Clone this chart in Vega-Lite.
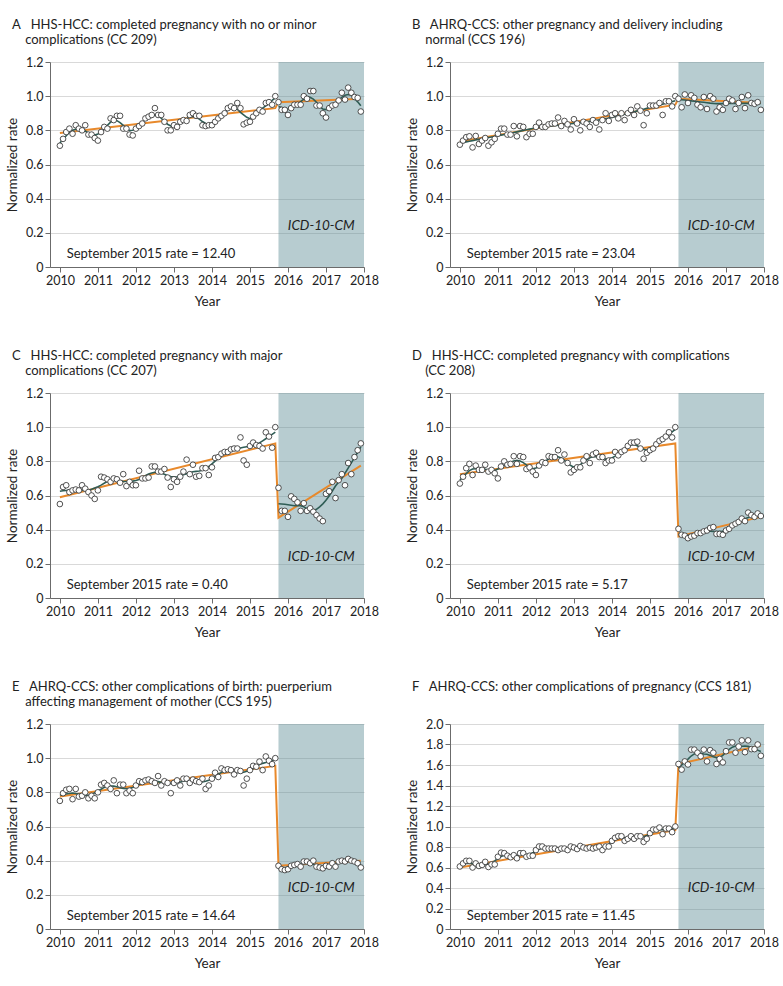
{
"$schema": "https://vega.github.io/schema/vega-lite/v6.json",
"background": "white",
"padding": {"left": 5, "top": 18, "right": 5, "bottom": 5},
"datasets": {
"monthly": [
{"t":2010,"era":"9","A":0.71,"B":0.716,"C":0.55,"D":0.67,"E":0.75,"F":0.61},
{"t":2010.0833,"era":"9","A":0.75,"B":0.74,"C":0.65,"D":0.71,"E":0.795,"F":0.64},
{"t":2010.1667,"era":"9","A":0.79,"B":0.76,"C":0.66,"D":0.76,"E":0.815,"F":0.665},
{"t":2010.25,"era":"9","A":0.81,"B":0.765,"C":0.62,"D":0.785,"E":0.82,"F":0.665},
{"t":2010.3333,"era":"9","A":0.78,"B":0.70,"C":0.63,"D":0.72,"E":0.76,"F":0.60},
{"t":2010.4167,"era":"9","A":0.83,"B":0.767,"C":0.635,"D":0.775,"E":0.82,"F":0.64},
{"t":2010.5,"era":"9","A":0.81,"B":0.72,"C":0.63,"D":0.75,"E":0.775,"F":0.615},
{"t":2010.5833,"era":"9","A":0.80,"B":0.74,"C":0.66,"D":0.75,"E":0.78,"F":0.625},
{"t":2010.6667,"era":"9","A":0.83,"B":0.755,"C":0.64,"D":0.78,"E":0.80,"F":0.655},
{"t":2010.75,"era":"9","A":0.775,"B":0.71,"C":0.62,"D":0.74,"E":0.765,"F":0.605},
{"t":2010.8333,"era":"9","A":0.775,"B":0.73,"C":0.60,"D":0.75,"E":0.78,"F":0.63},
{"t":2010.9167,"era":"9","A":0.755,"B":0.75,"C":0.58,"D":0.73,"E":0.765,"F":0.63},
{"t":2011,"era":"9","A":0.74,"B":0.78,"C":0.63,"D":0.70,"E":0.80,"F":0.705},
{"t":2011.0833,"era":"9","A":0.79,"B":0.81,"C":0.71,"D":0.77,"E":0.845,"F":0.745},
{"t":2011.1667,"era":"9","A":0.82,"B":0.81,"C":0.705,"D":0.80,"E":0.855,"F":0.74},
{"t":2011.25,"era":"9","A":0.81,"B":0.775,"C":0.695,"D":0.78,"E":0.84,"F":0.715},
{"t":2011.3333,"era":"9","A":0.87,"B":0.775,"C":0.68,"D":0.785,"E":0.82,"F":0.70},
{"t":2011.4167,"era":"9","A":0.86,"B":0.825,"C":0.70,"D":0.83,"E":0.87,"F":0.72},
{"t":2011.5,"era":"9","A":0.885,"B":0.765,"C":0.695,"D":0.785,"E":0.795,"F":0.69},
{"t":2011.5833,"era":"9","A":0.885,"B":0.825,"C":0.675,"D":0.83,"E":0.845,"F":0.74},
{"t":2011.6667,"era":"9","A":0.81,"B":0.82,"C":0.725,"D":0.825,"E":0.845,"F":0.74},
{"t":2011.75,"era":"9","A":0.81,"B":0.76,"C":0.655,"D":0.755,"E":0.795,"F":0.705},
{"t":2011.8333,"era":"9","A":0.775,"B":0.78,"C":0.68,"D":0.765,"E":0.81,"F":0.715},
{"t":2011.9167,"era":"9","A":0.77,"B":0.78,"C":0.66,"D":0.74,"E":0.795,"F":0.715},
{"t":2012,"era":"9","A":0.81,"B":0.82,"C":0.66,"D":0.72,"E":0.84,"F":0.77},
{"t":2012.0833,"era":"9","A":0.825,"B":0.845,"C":0.745,"D":0.775,"E":0.865,"F":0.805},
{"t":2012.1667,"era":"9","A":0.84,"B":0.82,"C":0.70,"D":0.795,"E":0.86,"F":0.805},
{"t":2012.25,"era":"9","A":0.87,"B":0.82,"C":0.70,"D":0.79,"E":0.87,"F":0.785},
{"t":2012.3333,"era":"9","A":0.88,"B":0.835,"C":0.705,"D":0.83,"E":0.875,"F":0.785},
{"t":2012.4167,"era":"9","A":0.89,"B":0.84,"C":0.77,"D":0.825,"E":0.865,"F":0.785},
{"t":2012.5,"era":"9","A":0.93,"B":0.84,"C":0.77,"D":0.825,"E":0.855,"F":0.785},
{"t":2012.5833,"era":"9","A":0.89,"B":0.875,"C":0.74,"D":0.865,"E":0.895,"F":0.77},
{"t":2012.6667,"era":"9","A":0.89,"B":0.825,"C":0.74,"D":0.805,"E":0.84,"F":0.785},
{"t":2012.75,"era":"9","A":0.85,"B":0.855,"C":0.755,"D":0.84,"E":0.865,"F":0.785},
{"t":2012.8333,"era":"9","A":0.80,"B":0.835,"C":0.705,"D":0.79,"E":0.855,"F":0.77},
{"t":2012.9167,"era":"9","A":0.80,"B":0.805,"C":0.65,"D":0.735,"E":0.795,"F":0.805},
{"t":2013,"era":"9","A":0.83,"B":0.865,"C":0.695,"D":0.75,"E":0.855,"F":0.795},
{"t":2013.0833,"era":"9","A":0.82,"B":0.84,"C":0.68,"D":0.765,"E":0.87,"F":0.78},
{"t":2013.1667,"era":"9","A":0.85,"B":0.80,"C":0.71,"D":0.765,"E":0.84,"F":0.81},
{"t":2013.25,"era":"9","A":0.86,"B":0.85,"C":0.74,"D":0.805,"E":0.88,"F":0.795},
{"t":2013.3333,"era":"9","A":0.855,"B":0.84,"C":0.81,"D":0.83,"E":0.88,"F":0.785},
{"t":2013.4167,"era":"9","A":0.89,"B":0.82,"C":0.725,"D":0.79,"E":0.855,"F":0.795},
{"t":2013.5,"era":"9","A":0.90,"B":0.86,"C":0.78,"D":0.84,"E":0.875,"F":0.785},
{"t":2013.5833,"era":"9","A":0.885,"B":0.845,"C":0.71,"D":0.85,"E":0.865,"F":0.795},
{"t":2013.6667,"era":"9","A":0.885,"B":0.805,"C":0.715,"D":0.825,"E":0.86,"F":0.805},
{"t":2013.75,"era":"9","A":0.83,"B":0.86,"C":0.76,"D":0.825,"E":0.88,"F":0.77},
{"t":2013.8333,"era":"9","A":0.825,"B":0.90,"C":0.76,"D":0.79,"E":0.82,"F":0.805},
{"t":2013.9167,"era":"9","A":0.83,"B":0.855,"C":0.72,"D":0.805,"E":0.84,"F":0.805},
{"t":2014,"era":"9","A":0.83,"B":0.89,"C":0.765,"D":0.805,"E":0.88,"F":0.86},
{"t":2014.0833,"era":"9","A":0.85,"B":0.90,"C":0.82,"D":0.855,"E":0.915,"F":0.89},
{"t":2014.1667,"era":"9","A":0.87,"B":0.87,"C":0.825,"D":0.835,"E":0.89,"F":0.905},
{"t":2014.25,"era":"9","A":0.885,"B":0.90,"C":0.845,"D":0.855,"E":0.94,"F":0.905},
{"t":2014.3333,"era":"9","A":0.90,"B":0.86,"C":0.855,"D":0.865,"E":0.93,"F":0.86},
{"t":2014.4167,"era":"9","A":0.93,"B":0.90,"C":0.855,"D":0.89,"E":0.935,"F":0.88},
{"t":2014.5,"era":"9","A":0.94,"B":0.92,"C":0.87,"D":0.91,"E":0.93,"F":0.905},
{"t":2014.5833,"era":"9","A":0.93,"B":0.89,"C":0.875,"D":0.91,"E":0.905,"F":0.88},
{"t":2014.6667,"era":"9","A":0.96,"B":0.94,"C":0.875,"D":0.915,"E":0.93,"F":0.905},
{"t":2014.75,"era":"9","A":0.93,"B":0.915,"C":0.94,"D":0.875,"E":0.925,"F":0.905},
{"t":2014.8333,"era":"9","A":0.835,"B":0.83,"C":0.805,"D":0.815,"E":0.84,"F":0.85},
{"t":2014.9167,"era":"9","A":0.845,"B":0.90,"C":0.78,"D":0.85,"E":0.88,"F":0.88},
{"t":2015,"era":"9","A":0.85,"B":0.945,"C":0.89,"D":0.865,"E":0.93,"F":0.935},
{"t":2015.0833,"era":"9","A":0.88,"B":0.945,"C":0.91,"D":0.875,"E":0.955,"F":0.97},
{"t":2015.1667,"era":"9","A":0.90,"B":0.945,"C":0.895,"D":0.90,"E":0.95,"F":0.97},
{"t":2015.25,"era":"9","A":0.92,"B":0.96,"C":0.89,"D":0.92,"E":0.98,"F":0.99},
{"t":2015.3333,"era":"9","A":0.91,"B":0.89,"C":0.875,"D":0.93,"E":0.93,"F":0.925},
{"t":2015.4167,"era":"9","A":0.96,"B":0.97,"C":0.97,"D":0.945,"E":1.01,"F":0.98},
{"t":2015.5,"era":"9","A":0.965,"B":0.97,"C":0.945,"D":0.97,"E":0.985,"F":0.98},
{"t":2015.5833,"era":"9","A":0.95,"B":0.94,"C":0.88,"D":0.94,"E":0.965,"F":0.945},
{"t":2015.6667,"era":"9","A":1.0,"B":1.0,"C":1.0,"D":1.0,"E":1.0,"F":1.0},
{"t":2015.75,"era":"10","A":0.965,"B":0.985,"C":0.645,"D":0.405,"E":0.37,"F":1.61},
{"t":2015.8333,"era":"10","A":0.92,"B":0.935,"C":0.51,"D":0.37,"E":0.35,"F":1.555},
{"t":2015.9167,"era":"10","A":0.92,"B":1.01,"C":0.51,"D":0.365,"E":0.345,"F":1.635},
{"t":2016,"era":"10","A":0.89,"B":0.96,"C":0.475,"D":0.35,"E":0.35,"F":1.605},
{"t":2016.0833,"era":"10","A":0.93,"B":1.005,"C":0.595,"D":0.36,"E":0.37,"F":1.75},
{"t":2016.1667,"era":"10","A":0.95,"B":0.99,"C":0.58,"D":0.365,"E":0.375,"F":1.75},
{"t":2016.25,"era":"10","A":0.95,"B":0.95,"C":0.56,"D":0.38,"E":0.38,"F":1.72},
{"t":2016.3333,"era":"10","A":0.95,"B":0.935,"C":0.51,"D":0.38,"E":0.365,"F":1.685},
{"t":2016.4167,"era":"10","A":1.0,"B":0.995,"C":0.555,"D":0.39,"E":0.395,"F":1.75},
{"t":2016.5,"era":"10","A":0.985,"B":0.925,"C":0.51,"D":0.395,"E":0.395,"F":1.635},
{"t":2016.5833,"era":"10","A":1.03,"B":1.0,"C":0.525,"D":0.41,"E":0.385,"F":1.745},
{"t":2016.6667,"era":"10","A":1.03,"B":0.985,"C":0.505,"D":0.415,"E":0.40,"F":1.72},
{"t":2016.75,"era":"10","A":0.945,"B":0.91,"C":0.485,"D":0.375,"E":0.365,"F":1.61},
{"t":2016.8333,"era":"10","A":0.945,"B":0.935,"C":0.465,"D":0.375,"E":0.36,"F":1.66},
{"t":2016.9167,"era":"10","A":0.90,"B":0.92,"C":0.45,"D":0.37,"E":0.355,"F":1.625},
{"t":2017,"era":"10","A":0.875,"B":0.96,"C":0.61,"D":0.395,"E":0.37,"F":1.735},
{"t":2017.0833,"era":"10","A":0.93,"B":0.985,"C":0.625,"D":0.405,"E":0.365,"F":1.82},
{"t":2017.1667,"era":"10","A":0.945,"B":0.975,"C":0.68,"D":0.425,"E":0.385,"F":1.82},
{"t":2017.25,"era":"10","A":0.95,"B":0.925,"C":0.585,"D":0.435,"E":0.365,"F":1.72},
{"t":2017.3333,"era":"10","A":0.975,"B":0.96,"C":0.69,"D":0.445,"E":0.395,"F":1.78},
{"t":2017.4167,"era":"10","A":1.02,"B":0.995,"C":0.725,"D":0.465,"E":0.40,"F":1.84},
{"t":2017.5,"era":"10","A":0.98,"B":0.93,"C":0.66,"D":0.45,"E":0.395,"F":1.725},
{"t":2017.5833,"era":"10","A":1.05,"B":1.005,"C":0.79,"D":0.50,"E":0.41,"F":1.84},
{"t":2017.6667,"era":"10","A":1.02,"B":0.96,"C":0.725,"D":0.485,"E":0.40,"F":1.755},
{"t":2017.75,"era":"10","A":0.995,"B":0.955,"C":0.825,"D":0.475,"E":0.395,"F":1.755},
{"t":2017.8333,"era":"10","A":0.99,"B":0.965,"C":0.865,"D":0.495,"E":0.385,"F":1.80},
{"t":2017.9167,"era":"10","A":0.91,"B":0.92,"C":0.905,"D":0.48,"E":0.36,"F":1.69}
],
"trend": [
{"t":2010,"A":0.785,"B":0.735,"C":0.59,"D":0.725,"E":0.775,"F":0.60},
{"t":2015.6667,"A":0.93,"B":0.95,"C":0.905,"D":0.905,"E":0.955,"F":0.965},
{"t":2015.75,"A":0.965,"B":0.985,"C":0.47,"D":0.36,"E":0.37,"F":1.61},
{"t":2017.9167,"A":0.985,"B":0.96,"C":0.775,"D":0.475,"E":0.40,"F":1.79}
]
},
"columns": 2,
"spacing": {"row": 41, "column": 26},
"concat": [
{
"width": 314, "height": 205,
"title": {"text": ["\u200b\u2002A\u2002\u00a0HHS-HCC: completed pregnancy with no or minor", "\u200b\u2003\u2002\u00a0complications (CC 209)"]},
"layer": [
{"data": {"values": [{}]}, "mark": {"type": "rect", "fill": "#5f8f96", "opacity": 0.45}, "encoding": {
"x": {"datum": 2015.75, "type": "quantitative", "scale": {"domain": [2009.74, 2018], "nice": false, "zero": false}, "axis": {"values": [2010,2011,2012,2013,2014,2015,2016,2017,2018], "tickCount": 30, "format": "d", "title": "Year"}}, "x2": {"datum": 2018},
"y": {"datum": 0, "type": "quantitative", "scale": {"domain": [0, 1.2], "nice": false}, "axis": {"values": [0,0.2,0.4,0.6,0.8,1,1.2], "tickCount": 30, "labelExpr": "datum.value == 0 ? '0' : format(datum.value, '.1f')", "title": "Normalized rate"}}, "y2": {"datum": 1.2}}},
{"data": {"name": "trend"}, "mark": {"type": "line", "color": "#e8892b", "strokeWidth": 2}, "encoding": {"x": {"field": "t", "type": "quantitative"}, "y": {"field": "A", "type": "quantitative"}}},
{"data": {"name": "monthly"}, "transform": [{"filter": "datum.era == '9'"}, {"loess": "A", "on": "t", "bandwidth": 0.12}], "mark": {"type": "line", "color": "#2f5d55", "strokeWidth": 1.6}, "encoding": {"x": {"field": "t", "type": "quantitative"}, "y": {"field": "A", "type": "quantitative"}}},
{"data": {"name": "monthly"}, "transform": [{"filter": "datum.era == '10'"}, {"loess": "A", "on": "t", "bandwidth": 0.3}], "mark": {"type": "line", "color": "#2f5d55", "strokeWidth": 1.6}, "encoding": {"x": {"field": "t", "type": "quantitative"}, "y": {"field": "A", "type": "quantitative"}}},
{"data": {"name": "monthly"}, "mark": {"type": "circle"}, "encoding": {
"x": {"field": "t", "type": "quantitative", "scale": {"domain": [2009.74, 2018], "nice": false, "zero": false}, "axis": {"values": [2010,2011,2012,2013,2014,2015,2016,2017,2018], "tickCount": 30, "format": "d", "title": "Year"}},
"y": {"field": "A", "type": "quantitative", "scale": {"domain": [0, 1.2], "nice": false}, "axis": {"values": [0,0.2,0.4,0.6,0.8,1,1.2], "tickCount": 30, "labelExpr": "datum.value == 0 ? '0' : format(datum.value, '.1f')", "title": "Normalized rate"}}}},
{"data": {"values": [{}]}, "mark": {"type": "text", "text": "September 2015 rate = 12.40", "align": "left", "baseline": "alphabetic"}, "encoding": {"x": {"datum": 2010.18, "type": "quantitative"}, "y": {"datum": 0.05, "type": "quantitative"}}},
{"data": {"values": [{}]}, "mark": {"type": "text", "text": "ICD-10-CM", "fontStyle": "italic", "fontSize": 13.5, "align": "center", "baseline": "middle"}, "encoding": {"x": {"datum": 2016.875, "type": "quantitative"}, "y": {"datum": 0.24, "type": "quantitative"}}}
]
},
{
"width": 314, "height": 205,
"title": {"text": ["\u200b\u2002B\u2002\u00a0AHRQ-CCS: other pregnancy and delivery including", "\u200b\u2003\u2002\u00a0normal (CCS 196)"]},
"layer": [
{"data": {"values": [{}]}, "mark": {"type": "rect", "fill": "#5f8f96", "opacity": 0.45}, "encoding": {
"x": {"datum": 2015.75, "type": "quantitative", "scale": {"domain": [2009.74, 2018], "nice": false, "zero": false}, "axis": {"values": [2010,2011,2012,2013,2014,2015,2016,2017,2018], "tickCount": 30, "format": "d", "title": "Year"}}, "x2": {"datum": 2018},
"y": {"datum": 0, "type": "quantitative", "scale": {"domain": [0, 1.2], "nice": false}, "axis": {"values": [0,0.2,0.4,0.6,0.8,1,1.2], "tickCount": 30, "labelExpr": "datum.value == 0 ? '0' : format(datum.value, '.1f')", "title": "Normalized rate"}}, "y2": {"datum": 1.2}}},
{"data": {"name": "trend"}, "mark": {"type": "line", "color": "#e8892b", "strokeWidth": 2}, "encoding": {"x": {"field": "t", "type": "quantitative"}, "y": {"field": "B", "type": "quantitative"}}},
{"data": {"name": "monthly"}, "transform": [{"filter": "datum.era == '9'"}, {"loess": "B", "on": "t", "bandwidth": 0.5}], "mark": {"type": "line", "color": "#2f5d55", "strokeWidth": 1.6}, "encoding": {"x": {"field": "t", "type": "quantitative"}, "y": {"field": "B", "type": "quantitative"}}},
{"data": {"name": "monthly"}, "transform": [{"filter": "datum.era == '10'"}, {"loess": "B", "on": "t", "bandwidth": 0.8}], "mark": {"type": "line", "color": "#2f5d55", "strokeWidth": 1.6}, "encoding": {"x": {"field": "t", "type": "quantitative"}, "y": {"field": "B", "type": "quantitative"}}},
{"data": {"name": "monthly"}, "mark": {"type": "circle"}, "encoding": {
"x": {"field": "t", "type": "quantitative", "scale": {"domain": [2009.74, 2018], "nice": false, "zero": false}, "axis": {"values": [2010,2011,2012,2013,2014,2015,2016,2017,2018], "tickCount": 30, "format": "d", "title": "Year"}},
"y": {"field": "B", "type": "quantitative", "scale": {"domain": [0, 1.2], "nice": false}, "axis": {"values": [0,0.2,0.4,0.6,0.8,1,1.2], "tickCount": 30, "labelExpr": "datum.value == 0 ? '0' : format(datum.value, '.1f')", "title": "Normalized rate"}}}},
{"data": {"values": [{}]}, "mark": {"type": "text", "text": "September 2015 rate = 23.04", "align": "left", "baseline": "alphabetic"}, "encoding": {"x": {"datum": 2010.18, "type": "quantitative"}, "y": {"datum": 0.05, "type": "quantitative"}}},
{"data": {"values": [{}]}, "mark": {"type": "text", "text": "ICD-10-CM", "fontStyle": "italic", "fontSize": 13.5, "align": "center", "baseline": "middle"}, "encoding": {"x": {"datum": 2016.875, "type": "quantitative"}, "y": {"datum": 0.24, "type": "quantitative"}}}
]
},
{
"width": 314, "height": 205,
"title": {"text": ["\u200b\u2002C\u2002\u00a0HHS-HCC: completed pregnancy with major", "\u200b\u2003\u2002\u00a0complications (CC 207)"]},
"layer": [
{"data": {"values": [{}]}, "mark": {"type": "rect", "fill": "#5f8f96", "opacity": 0.45}, "encoding": {
"x": {"datum": 2015.75, "type": "quantitative", "scale": {"domain": [2009.74, 2018], "nice": false, "zero": false}, "axis": {"values": [2010,2011,2012,2013,2014,2015,2016,2017,2018], "tickCount": 30, "format": "d", "title": "Year"}}, "x2": {"datum": 2018},
"y": {"datum": 0, "type": "quantitative", "scale": {"domain": [0, 1.2], "nice": false}, "axis": {"values": [0,0.2,0.4,0.6,0.8,1,1.2], "tickCount": 30, "labelExpr": "datum.value == 0 ? '0' : format(datum.value, '.1f')", "title": "Normalized rate"}}, "y2": {"datum": 1.2}}},
{"data": {"name": "trend"}, "mark": {"type": "line", "color": "#e8892b", "strokeWidth": 2}, "encoding": {"x": {"field": "t", "type": "quantitative"}, "y": {"field": "C", "type": "quantitative"}}},
{"data": {"name": "monthly"}, "transform": [{"filter": "datum.era == '9'"}, {"loess": "C", "on": "t", "bandwidth": 0.2}], "mark": {"type": "line", "color": "#2f5d55", "strokeWidth": 1.6}, "encoding": {"x": {"field": "t", "type": "quantitative"}, "y": {"field": "C", "type": "quantitative"}}},
{"data": {"name": "monthly"}, "transform": [{"filter": "datum.era == '10'"}, {"loess": "C", "on": "t", "bandwidth": 0.5}], "mark": {"type": "line", "color": "#2f5d55", "strokeWidth": 1.6}, "encoding": {"x": {"field": "t", "type": "quantitative"}, "y": {"field": "C", "type": "quantitative"}}},
{"data": {"name": "monthly"}, "mark": {"type": "circle"}, "encoding": {
"x": {"field": "t", "type": "quantitative", "scale": {"domain": [2009.74, 2018], "nice": false, "zero": false}, "axis": {"values": [2010,2011,2012,2013,2014,2015,2016,2017,2018], "tickCount": 30, "format": "d", "title": "Year"}},
"y": {"field": "C", "type": "quantitative", "scale": {"domain": [0, 1.2], "nice": false}, "axis": {"values": [0,0.2,0.4,0.6,0.8,1,1.2], "tickCount": 30, "labelExpr": "datum.value == 0 ? '0' : format(datum.value, '.1f')", "title": "Normalized rate"}}}},
{"data": {"values": [{}]}, "mark": {"type": "text", "text": "September 2015 rate = 0.40", "align": "left", "baseline": "alphabetic"}, "encoding": {"x": {"datum": 2010.18, "type": "quantitative"}, "y": {"datum": 0.05, "type": "quantitative"}}},
{"data": {"values": [{}]}, "mark": {"type": "text", "text": "ICD-10-CM", "fontStyle": "italic", "fontSize": 13.5, "align": "center", "baseline": "middle"}, "encoding": {"x": {"datum": 2016.875, "type": "quantitative"}, "y": {"datum": 0.24, "type": "quantitative"}}}
]
},
{
"width": 314, "height": 205,
"title": {"text": ["\u200b\u2002D\u2002\u00a0HHS-HCC: completed pregnancy with complications", "\u200b\u2003\u2002\u00a0(CC 208)"]},
"layer": [
{"data": {"values": [{}]}, "mark": {"type": "rect", "fill": "#5f8f96", "opacity": 0.45}, "encoding": {
"x": {"datum": 2015.75, "type": "quantitative", "scale": {"domain": [2009.74, 2018], "nice": false, "zero": false}, "axis": {"values": [2010,2011,2012,2013,2014,2015,2016,2017,2018], "tickCount": 30, "format": "d", "title": "Year"}}, "x2": {"datum": 2018},
"y": {"datum": 0, "type": "quantitative", "scale": {"domain": [0, 1.2], "nice": false}, "axis": {"values": [0,0.2,0.4,0.6,0.8,1,1.2], "tickCount": 30, "labelExpr": "datum.value == 0 ? '0' : format(datum.value, '.1f')", "title": "Normalized rate"}}, "y2": {"datum": 1.2}}},
{"data": {"name": "trend"}, "mark": {"type": "line", "color": "#e8892b", "strokeWidth": 2}, "encoding": {"x": {"field": "t", "type": "quantitative"}, "y": {"field": "D", "type": "quantitative"}}},
{"data": {"name": "monthly"}, "transform": [{"filter": "datum.era == '9'"}, {"loess": "D", "on": "t", "bandwidth": 0.12}], "mark": {"type": "line", "color": "#2f5d55", "strokeWidth": 1.6}, "encoding": {"x": {"field": "t", "type": "quantitative"}, "y": {"field": "D", "type": "quantitative"}}},
{"data": {"name": "monthly"}, "transform": [{"filter": "datum.era == '10'"}, {"loess": "D", "on": "t", "bandwidth": 0.4}], "mark": {"type": "line", "color": "#2f5d55", "strokeWidth": 1.6}, "encoding": {"x": {"field": "t", "type": "quantitative"}, "y": {"field": "D", "type": "quantitative"}}},
{"data": {"name": "monthly"}, "mark": {"type": "circle"}, "encoding": {
"x": {"field": "t", "type": "quantitative", "scale": {"domain": [2009.74, 2018], "nice": false, "zero": false}, "axis": {"values": [2010,2011,2012,2013,2014,2015,2016,2017,2018], "tickCount": 30, "format": "d", "title": "Year"}},
"y": {"field": "D", "type": "quantitative", "scale": {"domain": [0, 1.2], "nice": false}, "axis": {"values": [0,0.2,0.4,0.6,0.8,1,1.2], "tickCount": 30, "labelExpr": "datum.value == 0 ? '0' : format(datum.value, '.1f')", "title": "Normalized rate"}}}},
{"data": {"values": [{}]}, "mark": {"type": "text", "text": "September 2015 rate = 5.17", "align": "left", "baseline": "alphabetic"}, "encoding": {"x": {"datum": 2010.18, "type": "quantitative"}, "y": {"datum": 0.05, "type": "quantitative"}}},
{"data": {"values": [{}]}, "mark": {"type": "text", "text": "ICD-10-CM", "fontStyle": "italic", "fontSize": 13.5, "align": "center", "baseline": "middle"}, "encoding": {"x": {"datum": 2016.875, "type": "quantitative"}, "y": {"datum": 0.24, "type": "quantitative"}}}
]
},
{
"width": 314, "height": 205,
"title": {"text": ["\u200b\u2002E\u2002\u00a0AHRQ-CCS: other complications of birth: puerperium", "\u200b\u2003\u2002\u00a0affecting management of mother (CCS 195)"]},
"layer": [
{"data": {"values": [{}]}, "mark": {"type": "rect", "fill": "#5f8f96", "opacity": 0.45}, "encoding": {
"x": {"datum": 2015.75, "type": "quantitative", "scale": {"domain": [2009.74, 2018], "nice": false, "zero": false}, "axis": {"values": [2010,2011,2012,2013,2014,2015,2016,2017,2018], "tickCount": 30, "format": "d", "title": "Year"}}, "x2": {"datum": 2018},
"y": {"datum": 0, "type": "quantitative", "scale": {"domain": [0, 1.2], "nice": false}, "axis": {"values": [0,0.2,0.4,0.6,0.8,1,1.2], "tickCount": 30, "labelExpr": "datum.value == 0 ? '0' : format(datum.value, '.1f')", "title": "Normalized rate"}}, "y2": {"datum": 1.2}}},
{"data": {"name": "trend"}, "mark": {"type": "line", "color": "#e8892b", "strokeWidth": 2}, "encoding": {"x": {"field": "t", "type": "quantitative"}, "y": {"field": "E", "type": "quantitative"}}},
{"data": {"name": "monthly"}, "transform": [{"filter": "datum.era == '9'"}, {"loess": "E", "on": "t", "bandwidth": 0.15}], "mark": {"type": "line", "color": "#2f5d55", "strokeWidth": 1.6}, "encoding": {"x": {"field": "t", "type": "quantitative"}, "y": {"field": "E", "type": "quantitative"}}},
{"data": {"name": "monthly"}, "transform": [{"filter": "datum.era == '10'"}, {"loess": "E", "on": "t", "bandwidth": 0.4}], "mark": {"type": "line", "color": "#2f5d55", "strokeWidth": 1.6}, "encoding": {"x": {"field": "t", "type": "quantitative"}, "y": {"field": "E", "type": "quantitative"}}},
{"data": {"name": "monthly"}, "mark": {"type": "circle"}, "encoding": {
"x": {"field": "t", "type": "quantitative", "scale": {"domain": [2009.74, 2018], "nice": false, "zero": false}, "axis": {"values": [2010,2011,2012,2013,2014,2015,2016,2017,2018], "tickCount": 30, "format": "d", "title": "Year"}},
"y": {"field": "E", "type": "quantitative", "scale": {"domain": [0, 1.2], "nice": false}, "axis": {"values": [0,0.2,0.4,0.6,0.8,1,1.2], "tickCount": 30, "labelExpr": "datum.value == 0 ? '0' : format(datum.value, '.1f')", "title": "Normalized rate"}}}},
{"data": {"values": [{}]}, "mark": {"type": "text", "text": "September 2015 rate = 14.64", "align": "left", "baseline": "alphabetic"}, "encoding": {"x": {"datum": 2010.18, "type": "quantitative"}, "y": {"datum": 0.05, "type": "quantitative"}}},
{"data": {"values": [{}]}, "mark": {"type": "text", "text": "ICD-10-CM", "fontStyle": "italic", "fontSize": 13.5, "align": "center", "baseline": "middle"}, "encoding": {"x": {"datum": 2016.875, "type": "quantitative"}, "y": {"datum": 0.24, "type": "quantitative"}}}
]
},
{
"width": 314, "height": 205,
"title": {"text": "\u200b\u2002F\u2002\u00a0AHRQ-CCS: other complications of pregnancy (CCS 181)", "offset": 24.5},
"layer": [
{"data": {"values": [{}]}, "mark": {"type": "rect", "fill": "#5f8f96", "opacity": 0.45}, "encoding": {
"x": {"datum": 2015.75, "type": "quantitative", "scale": {"domain": [2009.74, 2018], "nice": false, "zero": false}, "axis": {"values": [2010,2011,2012,2013,2014,2015,2016,2017,2018], "tickCount": 30, "format": "d", "title": "Year"}}, "x2": {"datum": 2018},
"y": {"datum": 0, "type": "quantitative", "scale": {"domain": [0, 2], "nice": false}, "axis": {"values": [0,0.2,0.4,0.6,0.8,1,1.2,1.4,1.6,1.8,2], "tickCount": 30, "labelExpr": "datum.value == 0 ? '0' : format(datum.value, '.1f')", "title": "Normalized rate"}}, "y2": {"datum": 2}}},
{"data": {"name": "trend"}, "mark": {"type": "line", "color": "#e8892b", "strokeWidth": 2}, "encoding": {"x": {"field": "t", "type": "quantitative"}, "y": {"field": "F", "type": "quantitative"}}},
{"data": {"name": "monthly"}, "transform": [{"filter": "datum.era == '9'"}, {"loess": "F", "on": "t", "bandwidth": 0.12}], "mark": {"type": "line", "color": "#2f5d55", "strokeWidth": 1.6}, "encoding": {"x": {"field": "t", "type": "quantitative"}, "y": {"field": "F", "type": "quantitative"}}},
{"data": {"name": "monthly"}, "transform": [{"filter": "datum.era == '10'"}, {"loess": "F", "on": "t", "bandwidth": 0.35}], "mark": {"type": "line", "color": "#2f5d55", "strokeWidth": 1.6}, "encoding": {"x": {"field": "t", "type": "quantitative"}, "y": {"field": "F", "type": "quantitative"}}},
{"data": {"name": "monthly"}, "mark": {"type": "circle"}, "encoding": {
"x": {"field": "t", "type": "quantitative", "scale": {"domain": [2009.74, 2018], "nice": false, "zero": false}, "axis": {"values": [2010,2011,2012,2013,2014,2015,2016,2017,2018], "tickCount": 30, "format": "d", "title": "Year"}},
"y": {"field": "F", "type": "quantitative", "scale": {"domain": [0, 2], "nice": false}, "axis": {"values": [0,0.2,0.4,0.6,0.8,1,1.2,1.4,1.6,1.8,2], "tickCount": 30, "labelExpr": "datum.value == 0 ? '0' : format(datum.value, '.1f')", "title": "Normalized rate"}}}},
{"data": {"values": [{}]}, "mark": {"type": "text", "text": "September 2015 rate = 11.45", "align": "left", "baseline": "alphabetic"}, "encoding": {"x": {"datum": 2010.18, "type": "quantitative"}, "y": {"datum": 0.083, "type": "quantitative"}}},
{"data": {"values": [{}]}, "mark": {"type": "text", "text": "ICD-10-CM", "fontStyle": "italic", "fontSize": 13.5, "align": "center", "baseline": "middle"}, "encoding": {"x": {"datum": 2016.875, "type": "quantitative"}, "y": {"datum": 0.4, "type": "quantitative"}}}
]
}
],
"config": {
"font": "Lato",
"view": {"stroke": null},
"axis": {"labelFontSize": 12.5, "titleFontSize": 13.5, "titleFontWeight": "normal", "labelColor": "#222", "titleColor": "#222", "domainColor": "#6b6b6b", "tickColor": "#6b6b6b", "tickSize": 5, "labelPadding": 2, "gridColor": "#d9d9d9", "labelFlush": false},
"axisX": {"grid": false, "titlePadding": 8, "labelPadding": 2},
"axisY": {"grid": true, "titlePadding": 6},
"title": {"anchor": "start", "frame": "bounds", "fontSize": 13, "fontWeight": "normal", "color": "#222", "offset": 9.5, "lineHeight": 15},
"circle": {"fill": "white", "stroke": "#333", "strokeWidth": 0.85, "size": 32, "opacity": 1},
"text": {"fontSize": 13, "color": "#222"}
}
}
